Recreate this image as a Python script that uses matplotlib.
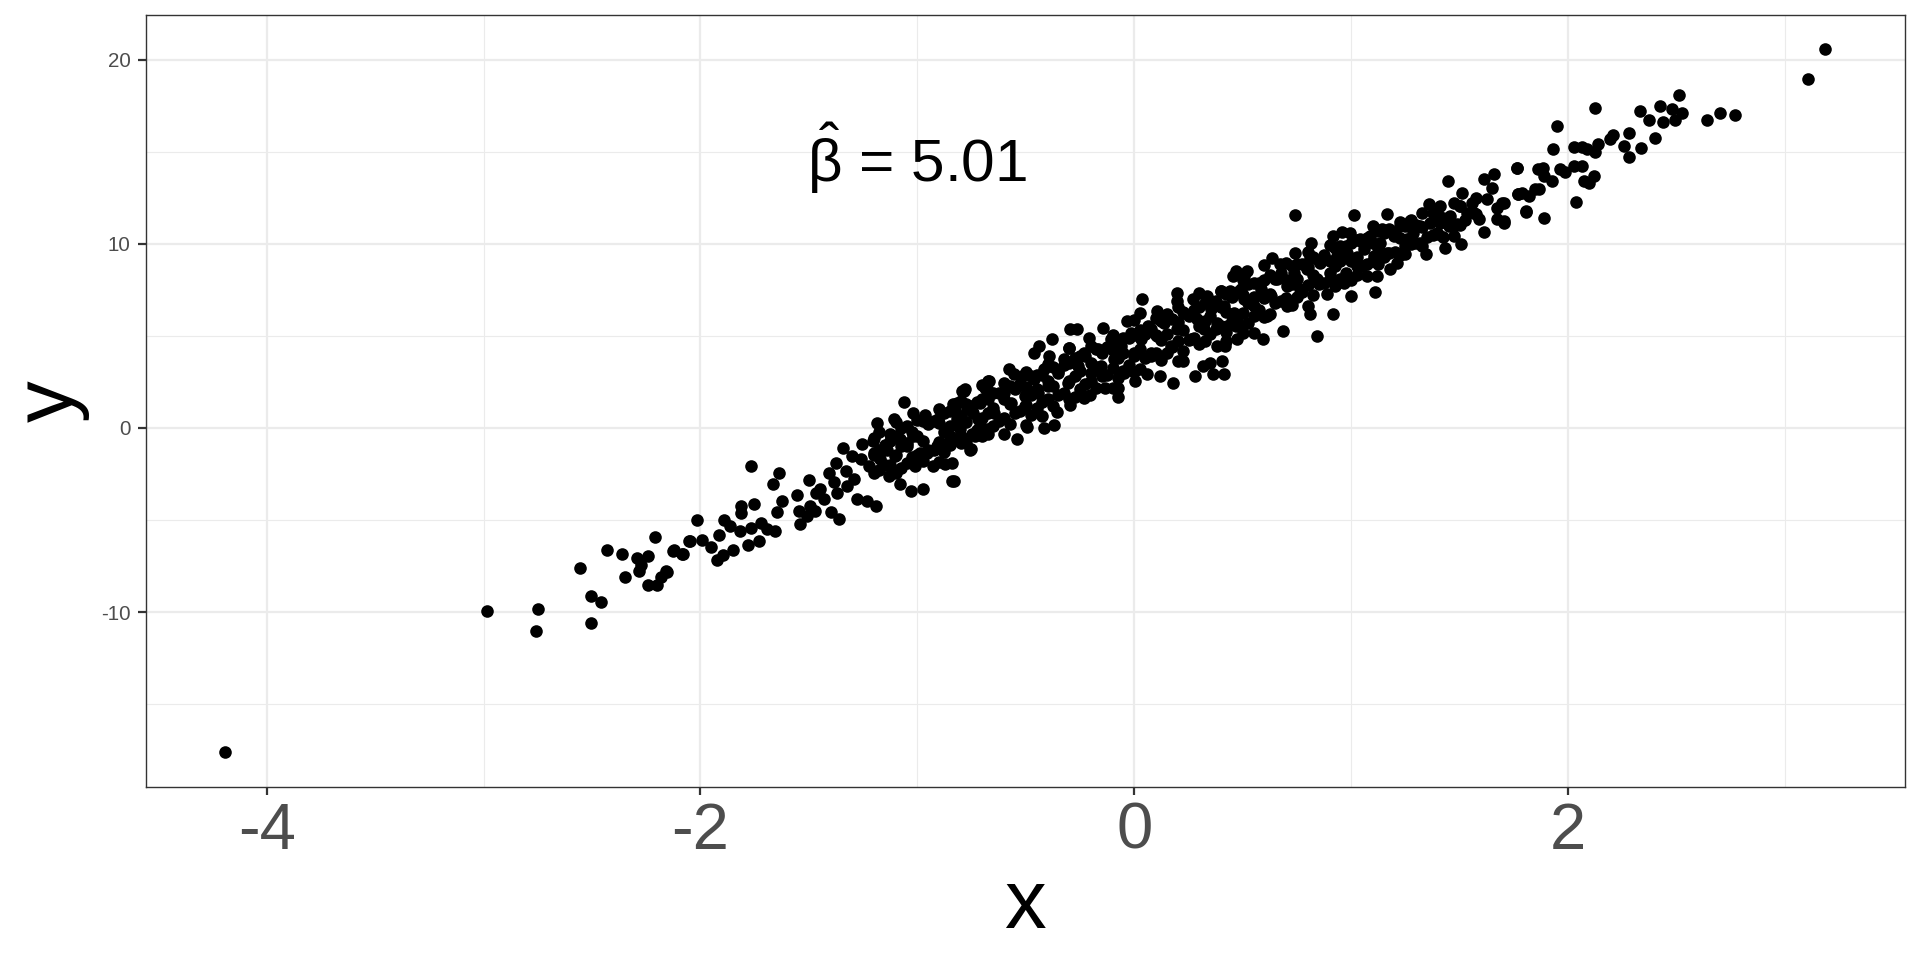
import numpy as np
import matplotlib
matplotlib.use("Agg")
import matplotlib.pyplot as plt

plt.rcParams["font.family"] = ["Liberation Sans", "DejaVu Sans"]
plt.rcParams["mathtext.fontset"] = "custom"
plt.rcParams["mathtext.rm"] = "Liberation Sans"
plt.rcParams["mathtext.it"] = "Liberation Sans"
plt.rcParams["axes.unicode_minus"] = False

# points, region by region (x, y)
tail_low = [(-4.19, -17.61), (-2.986, -9.93), (-2.75, -9.82), (-2.76, -11.02),
            (-2.553, -7.61), (-2.505, -9.11), (-2.459, -9.44), (-2.504, -10.62),
            (-2.431, -6.63), (-2.362, -6.82), (-2.294, -7.09), (-2.243, -6.94),
            (-2.209, -5.91), (-2.349, -8.12), (-2.281, -7.77), (-2.276, -7.47),
            (-2.240, -8.54), (-2.199, -8.52), (-2.184, -8.10), (-2.155, -7.81),
            (-2.125, -6.71), (-2.083, -6.84), (-2.054, -6.15)]

lower = [(-2.161, -7.78), (-2.122, -6.65), (-2.079, -6.87), (-2.048, -6.15),
         (-2.018, -5.02), (-1.992, -6.07), (-1.953, -6.48), (-1.923, -7.19),
         (-1.896, -6.88), (-1.915, -5.80), (-1.893, -5.00), (-1.862, -5.33),
         (-1.849, -6.64), (-1.819, -5.57), (-1.815, -4.60), (-1.811, -4.24),
         (-1.781, -6.38), (-1.768, -5.42), (-1.768, -2.07), (-1.753, -4.12),
         (-1.729, -6.15), (-1.720, -5.15), (-1.695, -5.51), (-1.658, -5.57),
         (-1.649, -4.57), (-1.664, -3.07), (-1.638, -2.47), (-1.623, -3.97),
         (-1.554, -3.64), (-1.546, -4.52), (-1.542, -5.20), (-1.508, -4.79),
         (-1.500, -2.85), (-1.470, -4.52), (-1.465, -3.52), (-1.432, -3.88),
         (-1.408, -2.43), (-1.400, -4.57), (-1.385, -2.94), (-1.377, -1.89),
         (-1.362, -4.93), (-1.342, -1.08), (-1.331, -2.34), (-1.301, -1.53),
         (-1.293, -2.79), (-1.278, -3.88), (-1.255, -0.89), (-1.232, -3.97),
         (-1.224, -2.07), (-1.204, -0.71), (-1.189, -4.24), (-1.186, 0.27),
         (-1.171, -1.70), (-1.132, -2.61), (-1.125, -0.35), (-1.109, 0.47),
         (-1.101, -1.53), (-1.082, -3.07), (-1.063, 1.41), (-1.048, -0.99),
         (-1.030, -3.43), (-1.018, 0.79), (-1.010, -2.07), (-0.972, -3.30),
         (-0.964, 0.73), (-0.957, -1.34), (-0.926, -2.07), (-0.903, 0.47),
         (-0.872, -1.97), (-0.868, -0.89), (-0.842, -2.88), (-0.834, 1.28),
         (-0.804, -0.05), (-0.796, 2.01), (-0.781, 2.10), (-0.758, -1.17),
         (-0.743, 0.84), (-0.712, 0.11), (-0.689, 2.19), (-0.681, -0.05),
         (-0.674, 2.55), (-0.849, -0.44), (-0.818, 0.47), (-0.772, 1.03),
         (-0.734, -0.44), (-0.712, 1.37), (-1.140, -1.17), (-1.078, -0.62),
         (-1.018, -0.44), (-0.988, -1.34), (-0.911, -0.99), (-1.201, -1.34),
         (-1.262, -1.70), (-1.323, -3.15), (-1.370, -3.52), (-1.447, -3.34),
         (-1.493, -4.24)]

middle = [(-0.832, -2.88), (-0.840, -1.89), (-0.801, -0.80), (-0.755, -1.16),
          (-0.786, 2.01), (-0.816, 1.38), (-0.671, 2.55), (-0.678, 2.10),
          (-0.602, -0.35), (-0.541, -0.58), (-0.579, 3.19), (-0.556, 2.91),
          (-0.518, 2.82), (-0.495, 0.04), (-0.502, 1.19), (-0.464, 4.10),
          (-0.441, 4.46), (-0.426, 0.65), (-0.418, -0.02), (-0.372, 0.16),
          (-0.380, 4.82), (-0.395, 3.91), (-0.357, 0.89), (-0.296, 1.25),
          (-0.296, 5.36), (-0.265, 5.36), (-0.303, 4.36), (-0.234, 1.61),
          (-0.204, 1.79), (-0.211, 4.91), (-0.142, 5.45), (-0.134, 2.19),
          (-0.076, 1.70), (-0.073, 2.19), (-0.035, 5.81), (0.003, 2.55),
          (0.034, 6.99), (0.026, 6.27), (0.057, 2.91), (0.103, 6.36),
          (0.118, 2.82), (0.149, 6.18), (0.179, 2.46), (0.195, 7.35),
          (0.195, 6.90), (0.226, 3.64), (0.272, 6.99), (0.280, 2.82),
          (0.318, 3.37), (0.333, 7.17), (0.348, 3.51), (0.364, 2.91),
          (0.379, 4.46), (0.402, 7.44), (0.425, 4.73), (0.456, 8.26),
          (0.471, 8.53), (0.456, 6.09),
          (-0.798, 0.65), (-0.752, 1.19), (-0.721, 0.47), (-0.675, 1.56),
          (-0.645, 0.83), (-0.599, 1.92), (-0.568, 1.38), (-0.537, 2.28),
          (-0.506, 1.74), (-0.460, 2.64), (-0.445, 1.92), (-0.414, 3.19),
          (-0.399, 2.28), (-0.353, 3.01), (-0.322, 3.73), (-0.307, 2.46),
          (-0.261, 3.37), (-0.230, 4.10), (-0.200, 3.01), (-0.169, 4.28),
          (-0.154, 3.37), (-0.108, 4.82), (-0.092, 3.73), (-0.062, 4.46),
          (-0.046, 3.01), (-0.016, 5.18), (0.000, 3.91), (0.031, 4.82),
          (0.061, 5.54), (0.077, 4.10), (0.107, 5.00), (0.138, 5.72),
          (0.168, 4.46), (0.199, 5.36), (0.230, 6.27), (0.261, 4.82),
          (0.291, 5.91), (0.322, 5.36), (0.353, 6.45), (0.383, 5.72),
          (0.414, 6.63), (0.445, 7.17), (0.468, 5.54), (0.491, 7.54)]

upper = [(0.412, 2.91), (0.405, 3.64), (0.420, 4.46), (0.474, 4.82),
         (0.551, 5.18), (0.594, 4.86), (0.684, 5.27), (0.809, 6.18),
         (0.841, 4.99), (0.915, 6.18), (0.742, 11.56), (1.011, 11.56),
         (0.815, 10.03), (0.742, 9.53), (0.635, 9.25), (0.520, 8.53),
         (0.505, 8.26), (0.443, 7.44), (0.673, 8.89), (0.811, 9.25),
         (0.915, 10.43), (0.957, 10.65), (0.996, 10.61), (1.042, 10.25),
         (0.998, 7.17), (1.108, 7.40), (1.119, 8.26), (1.088, 10.43),
         (1.142, 10.79), (1.165, 11.61), (1.180, 8.62), (1.211, 8.98),
         (1.226, 10.97), (1.249, 9.44), (1.272, 11.25), (1.318, 10.97),
         (1.346, 9.44), (1.357, 12.15), (1.395, 10.61), (1.410, 12.06),
         (1.433, 9.80), (1.444, 13.42), (1.472, 10.43), (1.487, 11.07),
         (1.506, 9.98), (1.510, 12.78), (1.533, 11.70), (1.556, 12.24),
         (1.587, 11.34), (1.610, 10.65), (1.610, 13.51), (1.649, 13.06),
         (1.660, 13.78), (1.672, 11.34), (1.695, 12.24), (1.703, 11.16),
         (1.764, 14.14), (1.771, 12.69), (1.806, 11.79), (1.848, 12.97),
         (1.863, 14.05),
         (0.459, 6.27), (0.505, 7.00), (0.551, 6.63), (0.582, 7.53),
         (0.628, 7.17), (0.658, 8.07), (0.704, 7.71), (0.735, 8.44),
         (0.766, 7.53), (0.796, 8.62), (0.842, 8.07), (0.858, 8.98),
         (0.888, 7.26), (0.904, 8.44), (0.934, 9.34), (0.965, 7.89),
         (0.980, 9.53), (1.026, 8.80), (1.057, 9.71), (1.073, 8.26),
         (1.103, 9.34), (1.134, 10.07), (1.165, 9.53), (1.195, 10.43),
         (1.257, 10.25), (1.287, 10.61), (1.318, 10.07), (1.364, 11.16),
         (1.410, 11.16), (1.456, 11.52), (1.502, 12.06), (1.564, 11.70),
         (1.625, 12.42), (1.672, 11.97), (0.490, 5.54), (0.613, 6.09),
         (0.704, 6.63), (0.428, 5.54)]

tail_high = [(3.185, 20.61), (3.108, 18.95), (2.767, 17.01), (2.701, 17.14),
             (2.639, 16.72), (2.513, 18.08), (2.524, 17.14), (2.494, 16.74),
             (2.478, 17.32), (2.424, 17.50), (2.437, 16.63), (2.374, 16.74),
             (2.332, 17.23), (2.401, 15.77), (2.337, 15.23), (2.279, 16.01),
             (2.279, 14.74), (2.259, 15.32), (2.207, 15.90), (2.191, 15.68),
             (2.137, 15.45), (2.125, 17.37), (2.125, 15.02), (2.087, 15.14),
             (2.064, 15.29), (2.029, 15.29), (2.120, 13.71), (2.094, 13.33),
             (2.071, 13.42), (2.064, 14.24), (2.029, 14.24), (2.036, 12.26),
             (1.987, 13.91), (1.964, 14.06), (1.948, 16.43), (1.928, 15.18),
             (1.925, 13.42), (1.887, 13.69), (1.882, 14.15), (1.864, 12.97),
             (1.888, 11.43), (1.818, 12.63), (1.807, 11.73), (1.787, 12.79),
             (1.764, 14.15), (1.767, 12.70), (1.703, 12.24), (1.703, 11.24)]

# the solid black core of the cloud
core = [(-1.20, -2.45), (-1.20, -1.45), (-1.20, -0.55),
        (-1.10, -2.45), (-1.10, -1.45), (-1.10, -0.45), (-1.10, 0.35),
        (-1.00, -1.45), (-1.00, -0.45), (-1.00, 0.45),
        (-0.90, -1.85), (-0.90, -0.75), (-0.90, 0.25), (-0.90, 1.05),
        (-0.80, -0.45), (-0.80, 0.55), (-0.80, 1.45),
        (-0.70, -0.45), (-0.70, 0.55), (-0.70, 1.55), (-0.70, 2.35),
        (-0.60, 0.55), (-0.60, 1.55), (-0.60, 2.45),
        (-0.50, 0.15), (-0.50, 1.25), (-0.50, 2.25), (-0.50, 3.05),
        (-0.40, 1.55), (-0.40, 2.55), (-0.40, 3.45),
        (-0.30, 1.55), (-0.30, 2.55), (-0.30, 3.55), (-0.30, 4.35),
        (-0.20, 2.55), (-0.20, 3.55), (-0.20, 4.45),
        (-0.10, 2.15), (-0.10, 3.25), (-0.10, 4.25), (-0.10, 5.05),
        (0.00, 3.05), (0.00, 4.05), (0.00, 5.05), (0.00, 5.85),
        (0.10, 4.05), (0.10, 5.05), (0.10, 5.95),
        (0.20, 3.65), (0.20, 4.75), (0.20, 5.75), (0.20, 6.55),
        (0.30, 4.55), (0.30, 5.55), (0.30, 6.55), (0.30, 7.35),
        (0.40, 5.55), (0.40, 6.55), (0.40, 7.45),
        (0.50, 5.15), (0.50, 6.25), (0.50, 7.25), (0.50, 8.05),
        (0.60, 6.05), (0.60, 7.05), (0.60, 8.05), (0.60, 8.85),
        (0.70, 7.05), (0.70, 8.05), (0.70, 8.95),
        (0.80, 6.65), (0.80, 7.75), (0.80, 8.75), (0.80, 9.55),
        (0.90, 8.05), (0.90, 9.05), (0.90, 9.95),
        (1.00, 8.05), (1.00, 9.05), (1.00, 10.05),
        (1.10, 9.05), (1.10, 10.05), (1.10, 10.95),
        (1.20, 9.55), (1.20, 10.55), (1.30, 10.05), (1.30, 11.05),
        (1.40, 10.55), (1.40, 11.55), (1.50, 11.05), (1.50, 12.05),
        (-1.15, -2.0), (-1.15, -0.9), (-1.05, -1.9), (-1.05, -0.8), (-1.05, 0.1),
        (-0.95, -1.2), (-0.95, 0.2), (-0.85, -0.9), (-0.85, 0.1), (-0.85, 0.9),
        (-0.75, -0.3), (-0.75, 0.9), (-0.65, 0.1), (-0.65, 1.1), (-0.65, 1.9),
        (-0.55, 0.8), (-0.55, 2.1), (-0.45, 1.1), (-0.45, 2.1), (-0.45, 2.9),
        (-0.35, 1.8), (-0.35, 3.1), (-0.25, 2.1), (-0.25, 3.1), (-0.25, 3.9),
        (-0.15, 2.8), (-0.15, 4.1), (-0.05, 3.1), (-0.05, 4.1), (-0.05, 4.9),
        (0.05, 3.8), (0.05, 5.1), (0.15, 4.1), (0.15, 5.1), (0.15, 5.9),
        (0.25, 4.8), (0.25, 6.1), (0.35, 5.1), (0.35, 6.1), (0.35, 6.9),
        (0.45, 5.8), (0.45, 7.1), (0.55, 6.1), (0.55, 7.1), (0.55, 7.9),
        (0.65, 6.8), (0.65, 8.1), (0.75, 7.1), (0.75, 8.1), (0.75, 8.9),
        (0.85, 7.8), (0.85, 9.1), (0.95, 8.1), (0.95, 9.1), (0.95, 9.9),
        (1.05, 8.8), (1.05, 10.1), (1.15, 9.3), (1.15, 10.6), (1.25, 9.9),
        (1.25, 11.0), (1.35, 10.4), (1.45, 11.0)]

core_fill = [(-1.175, -2.3), (-1.175, -1.2), (-1.175, -0.2), (-1.125, -2.0), (-1.125, -0.7),
             (-1.075, -2.2), (-1.075, -1.0), (-1.075, 0.0), (-1.025, -1.6), (-1.025, -0.2),
             (-0.975, -1.8), (-0.975, -0.7), (-0.975, 0.4), (-0.925, -1.2), (-0.925, 0.4),
             (-0.875, -1.3), (-0.875, -0.2), (-0.875, 0.8), (-0.825, -0.6), (-0.825, 0.9),
             (-0.775, -0.8), (-0.775, 0.3), (-0.775, 1.3), (-0.725, -0.1), (-0.725, 1.4),
             (-0.675, -0.3), (-0.675, 0.8), (-0.675, 1.8), (-0.625, 0.4), (-0.625, 1.9),
             (-0.575, 0.2), (-0.575, 1.3), (-0.575, 2.3), (-0.525, 0.9), (-0.525, 2.4),
             (-0.475, 0.7), (-0.475, 1.8), (-0.475, 2.8), (-0.425, 1.4), (-0.425, 2.9),
             (-0.375, 1.2), (-0.375, 2.3), (-0.375, 3.3), (-0.325, 1.9), (-0.325, 3.4),
             (-0.275, 1.7), (-0.275, 2.8), (-0.275, 3.8), (-0.225, 2.4), (-0.225, 3.9),
             (-0.175, 2.2), (-0.175, 3.3), (-0.175, 4.3), (-0.125, 2.9), (-0.125, 4.4),
             (-0.075, 2.7), (-0.075, 3.8), (-0.075, 4.8), (-0.025, 3.4), (-0.025, 4.9),
             (0.025, 3.2), (0.025, 4.3), (0.025, 5.3), (0.075, 3.9), (0.075, 5.4),
             (0.125, 3.7), (0.125, 4.8), (0.125, 5.8), (0.175, 4.4), (0.175, 5.9),
             (0.225, 4.2), (0.225, 5.3), (0.225, 6.3), (0.275, 4.9), (0.275, 6.4),
             (0.325, 4.7), (0.325, 5.8), (0.325, 6.8), (0.375, 5.4), (0.375, 6.9),
             (0.425, 5.2), (0.425, 6.3), (0.425, 7.3), (0.475, 5.9), (0.475, 7.4),
             (0.525, 5.7), (0.525, 6.8), (0.525, 7.8), (0.575, 6.4), (0.575, 7.9),
             (0.625, 6.2), (0.625, 7.3), (0.625, 8.3), (0.675, 6.9), (0.675, 8.4),
             (0.725, 6.7), (0.725, 7.8), (0.725, 8.8), (0.775, 7.4), (0.775, 8.9),
             (0.825, 7.2), (0.825, 8.3), (0.825, 9.3), (0.875, 7.9), (0.875, 9.4),
             (0.925, 7.7), (0.925, 8.8), (0.925, 9.8), (0.975, 8.4), (0.975, 9.9),
             (1.025, 8.3), (1.025, 9.3), (1.025, 10.2), (1.075, 8.9), (1.075, 10.3),
             (1.125, 8.9), (1.125, 9.8), (1.125, 10.7), (1.175, 9.5), (1.175, 10.8),
             (1.225, 9.4), (1.225, 10.3), (1.225, 11.2), (1.275, 10.0), (1.275, 11.3),
             (1.325, 9.9), (1.325, 10.9), (1.325, 11.7), (1.375, 10.5), (1.375, 11.7),
             (1.425, 10.4), (1.425, 11.4), (1.475, 11.0), (1.475, 12.2), (1.525, 11.3),
             (1.575, 11.6), (1.575, 12.5)]

beta_hat = 5.01
x_ticks = [-4, -2, 0, 2]
y_ticks = [-10, 0, 10, 20]

pts = np.array(tail_low + lower + middle + upper + tail_high + core + core_fill)

fig = plt.figure(figsize=(19.2, 9.6), dpi=100)
ax = fig.add_axes([0.0758, 0.1807, 0.9164, 0.8037])

ax.scatter(pts[:, 0], pts[:, 1], s=82, c="black", linewidths=0, zorder=3)

ax.set_xlim(-4.558, 3.553)
ax.set_ylim(-19.48, 22.44)
ax.set_xticks(x_ticks)
ax.set_yticks(y_ticks)
ax.set_xticks([-3, -1, 1, 3], minor=True)
ax.set_yticks([-15, -5, 5, 15], minor=True)
ax.grid(which="major", color="#EBEBEB", linewidth=1.6, zorder=0)
ax.grid(which="minor", color="#EBEBEB", linewidth=0.8, zorder=0)
ax.set_axisbelow(True)
for sp in ax.spines.values():
    sp.set_color("#333333")
    sp.set_linewidth(1.0)

ax.tick_params(which="major", length=5.8, width=1.6, color="#333333")
ax.tick_params(which="minor", length=0)
ax.tick_params(axis="x", labelsize=47, labelcolor="#4D4D4D", pad=5)
ax.tick_params(axis="y", labelsize=14.8, labelcolor="#4D4D4D", pad=5)

ax.set_xlabel("x", fontsize=60, va="baseline")
ax.xaxis.set_label_coords(0.5, -0.1834)
ax.set_ylabel("y", fontsize=60, va="baseline", ha="center", rotation_mode="anchor")
ax.yaxis.set_label_coords(-0.0412, 0.5)

ax.text(-1.0, 13.36, r"$\hat{\beta}$" + " = %.2f" % beta_hat, fontsize=43.5,
        ha="center", va="baseline", color="black")

fig.savefig("out.png", dpi=100, facecolor="white")
